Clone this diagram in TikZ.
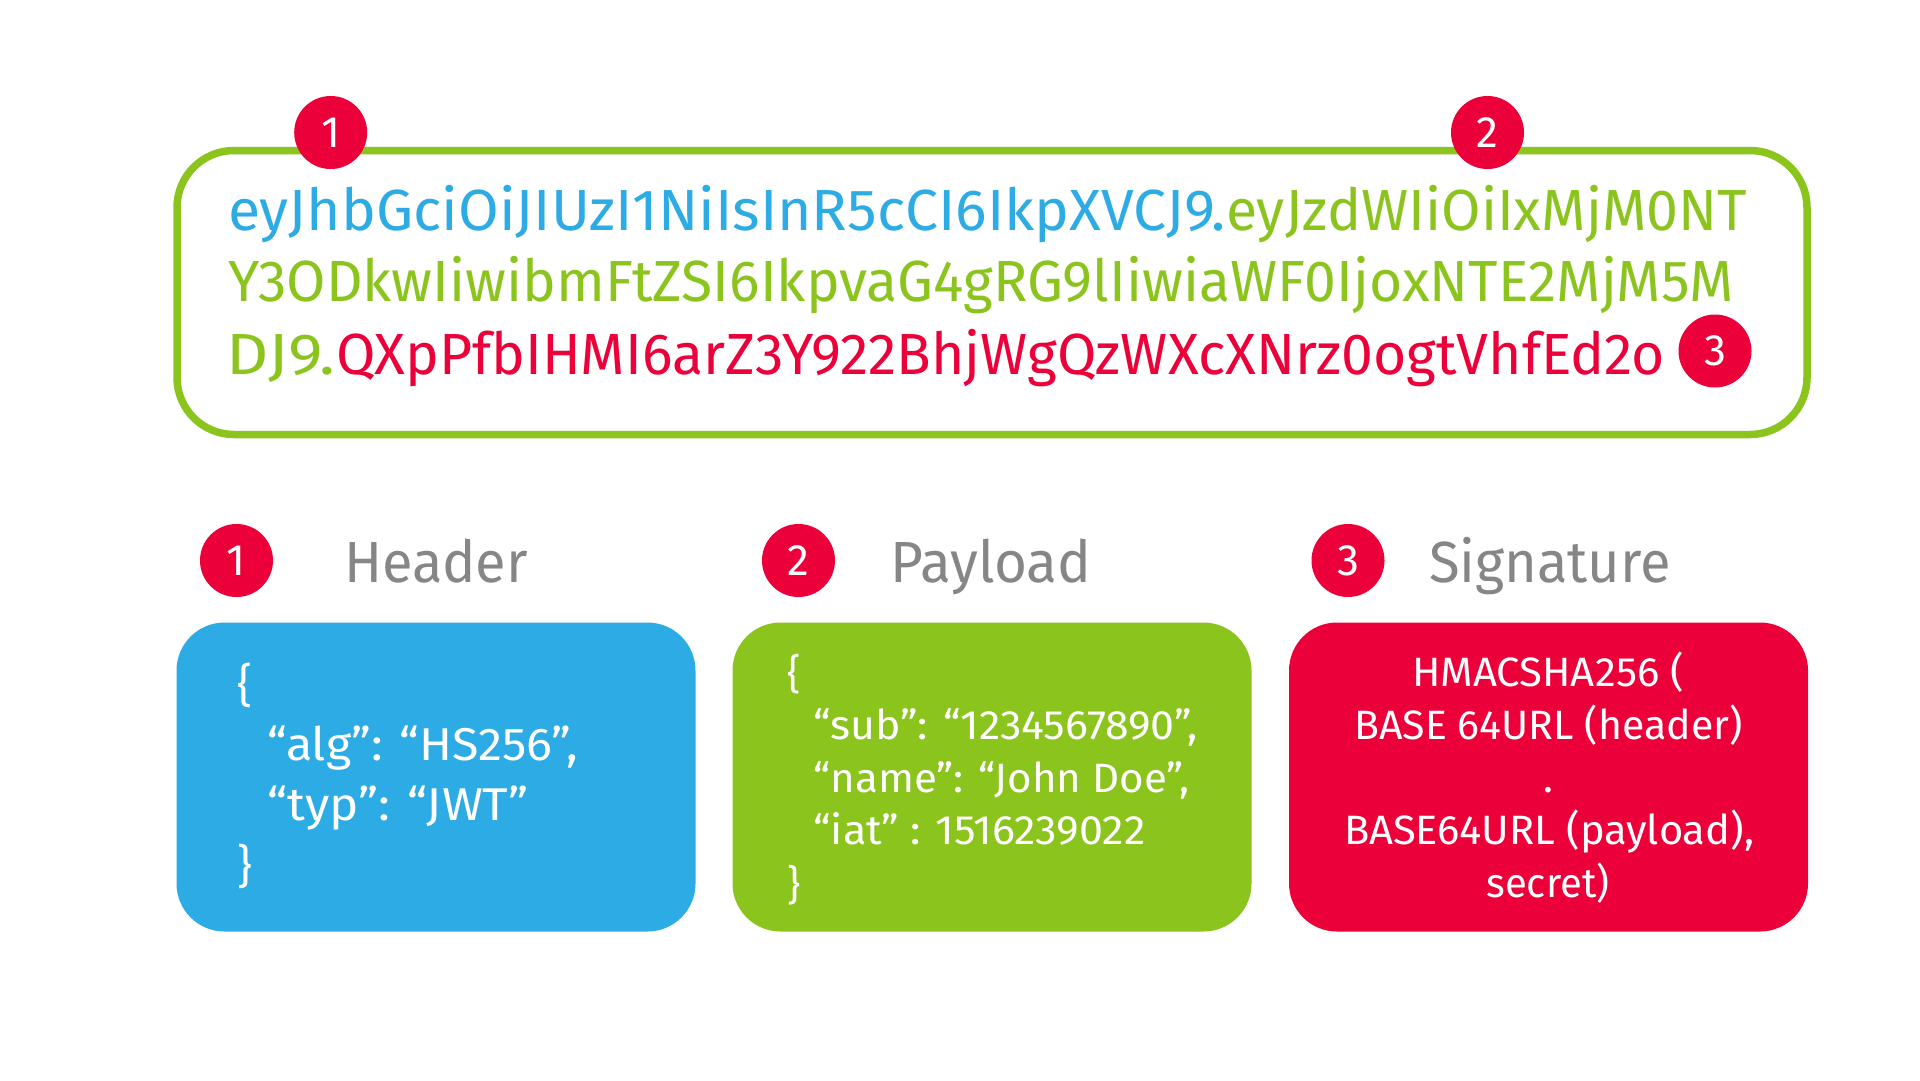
\documentclass[tikz,border=0pt]{standalone}
\usepackage{fontspec}
\usepackage{graphicx}
\setmainfont{Fira Sans}
\definecolor{jblue}{HTML}{2DABE5}
\definecolor{jgreen}{HTML}{8CC41E}
\definecolor{jred}{HTML}{EC0039}
\definecolor{jgray}{HTML}{868686}
\newcommand{\fs}[1]{\fontsize{#1}{#1}\selectfont}
\newcommand{\fitw}[2]{\resizebox{#1pt}{\height}{#2}}
\tikzset{
  badge/.style={circle,fill=jred,text=white,minimum size=73pt,inner sep=0pt,font=\fs{44}},
  card/.style={rectangle,rounded corners=48pt,minimum width=519pt,minimum height=309pt,inner sep=0pt},
  frame/.style={rectangle,draw=jgreen,line width=7.5pt,rounded corners=57pt,minimum width=1630pt,minimum height=284pt,inner sep=0pt},
  txt/.style={anchor=base west,inner sep=0pt,outer sep=0pt},
  big/.style={txt,font=\fs{58}},
  head/.style={txt,font=\fs{58},text=jgray},
  blu/.style={txt,font=\fs{46},text=white},
  gre/.style={txt,font=\fs{41},text=white},
  rdt/.style={txt,font=\fs{41},text=white},
}
\begin{document}
\begin{tikzpicture}[x=1pt,y=-1pt]
\useasboundingbox (0,0) rectangle (1920,1080);
\fill[white] (0,0) rectangle (1920,1080);
\node[frame] (token) at (992,292.5) {};
\node[big,text=jblue] (t1a) at (228,230) {\fitw{998}{eyJhbGciOiJIUzI1NiIsInR5cCI6IkpXVCJ9.}};
\node[big,text=jgreen] (t1b) at (1226,230) {\fitw{521}{eyJzdWIiOiIxMjM0NT}};
\node[big,text=jgreen] (t2) at (228,301.7) {\fitw{1506}{Y3ODkwIiwibmFtZSI6IkpvaG4gRG9lIiwiaWF0IjoxNTE2MjM5M}};
\node[big,text=jgreen] (t3a) at (226.5,374) {\fitw{108.5}{DJ9.}};
\node[big,text=jred] (t3b) at (336,374) {\fitw{1329}{QXpPfbIHMI6arZ3Y922BhjWgQzWXcXNrz0ogtVhfEd2o}};
\node[badge] (b1) at (330.7,132.5) {1};
\node[badge] (b2) at (1487.5,132.5) {2};
\node[badge] (b3) at (1715,351) {3};
\node[badge] (c1) at (236.5,560.5) {1};
\node[badge] (c2) at (798.5,560.5) {2};
\node[badge] (c3) at (1348,560.5) {3};
\node[head] (hh) at (344,582.7) {\fitw{184}{Header}};
\node[head] (hp) at (890.5,582.7) {\fitw{201}{Payload}};
\node[head] (hs) at (1429,582.7) {\fitw{242}{Signature}};
\node[card,fill=jblue] (cb) at (436,777) {};
\node[card,fill=jgreen] (cg) at (992,777) {};
\node[card,fill=jred] (cr) at (1548.5,777) {};
\node[blu] (b_a) at (237,701) {\{};
\node[blu] (b_b) at (267,760) {\fitw{311}{“alg”: “HS256”,}};
\node[blu] (b_c) at (267,820) {\fitw{262}{“typ”: “JWT”}};
\node[blu] (b_d) at (237,882) {\}};
\node[gre] (g_a) at (787,688) {\{};
\node[gre] (g_b) at (813.5,739) {\fitw{384}{“sub”: “1234567890”,}};
\node[gre] (g_c) at (813.5,792) {\fitw{376}{“name”: “John Doe”,}};
\node[gre] (g_d) at (813.5,844) {\fitw{332}{“iat” : 1516239022}};
\node[gre] (g_e) at (787,899) {\}};
\node[rdt] (r_a) at (1412,686.7) {\fitw{272}{HMACSHA256 (}};
\node[rdt] (r_b) at (1354.5,739) {\fitw{388}{BASE 64URL (header)}};
\node[rdt,anchor=base] (r_c) at (1548.6,792.7) {.};
\node[rdt] (r_d) at (1344,844) {\fitw{410}{BASE64URL (payload),}};
\node[rdt] (r_e) at (1486.5,897) {\fitw{123}{secret)}};
\end{tikzpicture}
\end{document}
